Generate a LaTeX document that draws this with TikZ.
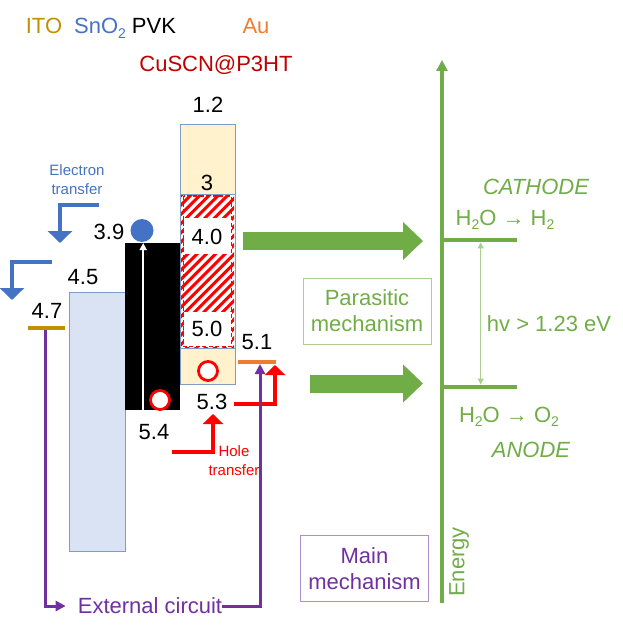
\documentclass[tikz,border=0pt]{standalone}
\usepackage{fontspec}
\setmainfont{Liberation Sans}
\usepackage{tikz}
\usetikzlibrary{arrows.meta,positioning}
\definecolor{itogold}{HTML}{BF9000}
\definecolor{snblue}{HTML}{4472C4}
\definecolor{auorange}{HTML}{ED7D31}
\definecolor{cured}{HTML}{C00000}
\definecolor{beige}{HTML}{FFF2CC}
\definecolor{paleblue}{HTML}{DAE3F3}
\definecolor{edgeblue}{HTML}{7F9CC8}
\definecolor{leaf}{HTML}{70AD47}
\definecolor{paleleaf}{HTML}{A9D18E}
\definecolor{circuit}{HTML}{7030A0}
\definecolor{lilac}{HTML}{B08FD0}
\newcommand{\bigtxt}{\fontsize{22}{26}\selectfont}
\newcommand{\smalltxt}{\fontsize{15}{19}\selectfont}
\newcommand{\lowidx}[1]{\raisebox{-0.35ex}{\fontsize{14}{14}\selectfont #1}}
\newcommand{\reacarrow}{\textbf{→}}

\begin{document}
\begin{tikzpicture}[x=1pt,y=-1pt,
  lbl/.style={font=\bigtxt,inner sep=0pt},
  note/.style={font=\smalltxt,align=center,inner sep=0pt},
  layer/.style={draw=edgeblue,line width=0.8pt,anchor=north west,inner sep=0pt},
  level/.style={minimum height=4pt,inner sep=0pt},
  carrier/.style={circle,draw=red,fill=white,line width=2.8pt,minimum size=19pt,inner sep=0pt},
  etrans/.style={draw=snblue,line width=3.5pt,-{Triangle[length=12pt,width=24pt]}},
  htrans/.style={draw=red,line width=3.5pt,-{Triangle[length=10pt,width=20pt]}},
  wire/.style={draw=circuit,line width=3pt,-{Triangle[length=10pt,width=10pt]}},
  block/.style={draw=leaf,line width=18pt,-{Triangle[length=20pt,width=37pt]}},
  mech/.style={draw,line width=1pt,align=center,font=\bigtxt,minimum width=128pt,minimum height=66pt,inner sep=0pt}
]
\useasboundingbox (0,0) rectangle (622,631);

% layer names
\node[lbl,itogold,anchor=base] (tito) at (44,34) {ITO};
\node[lbl,snblue,anchor=base] (tsno2) at (100,34) {SnO\lowidx{2}};
\node[lbl,anchor=base] (tpvk) at (154,34) {PVK};
\node[lbl,auorange,anchor=base] (tau) at (256,34) {Au};
\node[lbl,cured,anchor=base] (tcu) at (216,72) {CuSCN@P3HT};

% bands
\node[layer,fill=paleblue,minimum width=56pt,minimum height=259pt] (sno2) at (69,292) {};
\node[fill=black,anchor=north west,inner sep=0pt,minimum width=55pt,minimum height=167pt] (pvk) at (125,243) {};
\node[layer,fill=beige,minimum width=55pt,minimum height=70pt] (cutop) at (180,124) {};
\node[layer,fill=beige,minimum width=55pt,minimum height=36pt] (cubot) at (180,348) {};
\begin{scope}
  \clip (181,195) rectangle (234,347);
  \foreach \k in {0,...,24}
    \draw[red,line width=3pt] ({6+\k*9.3},352) -- ({6+\k*9.3+170},182);
\end{scope}
\fill[white] (183.5,218) rectangle (231.5,254);
\fill[white] (183.5,312) rectangle (231.5,347);
\draw[red,line width=1.6pt,dash pattern=on 4pt off 2.5pt] (183.5,196) rectangle (231.5,346.5);
\node[layer,minimum width=55pt,minimum height=260pt] (cuscn) at (180,124) {};
\node[level,fill=itogold,minimum width=37pt] (ito) at (46.5,328) {};
\node[level,fill=auorange,minimum width=38pt] (au) at (257,362) {};

% energy values
\node[lbl,anchor=base] (v12) at (208,113) {1.2};
\node[lbl] (v3) at (207,183) {3};
\node[lbl] (v40) at (207,237) {4.0};
\node[lbl] (v50) at (207,329) {5.0};
\node[lbl] (v39) at (109,232) {3.9};
\node[lbl] (v45) at (83,277) {4.5};
\node[lbl] (v47) at (47,311) {4.7};
\node[lbl] (v54) at (154,432) {5.4};
\node[lbl] (v53) at (212,402) {5.3};
\node[lbl] (v51) at (257,342) {5.1};

% carriers
\node[circle,fill=snblue,minimum size=23pt,inner sep=0pt] (elec) at (142,230.5) {};
\node[carrier] (hpvk) at (160,400) {};
\node[carrier] (hcu) at (208,371) {};
\draw[white,line width=1.5pt,-{Triangle[length=7pt,width=7pt]}] ([xshift=-9.5pt]pvk.south) -- ([xshift=-9.5pt]pvk.north);

% electron transfer
\node[note,snblue] (etxt) at (77,179.5) {Electron\\transfer};
\coordinate (e1s) at (99,205);
\coordinate (e1e) at (60,243);
\coordinate (e2s) at (52,262);
\coordinate (e2e) at (12,300);
\draw[etrans] (e1s) -| (e1e);
\draw[etrans] (e2s) -| (e2e);

% hole transfer
\node[note,red] (htxt) at (234,461) {Hole\\transfer};
\coordinate (h1s) at (172,452);
\coordinate (h1e) at (213,414);
\coordinate (h2s) at (234,404);
\coordinate (h2e) at (275,365);
\draw[htrans] (h1s) -| (h1e);
\draw[htrans] (h2s) -| (h2e);

% external circuit
\node[lbl,circuit] (ext) at (150,606) {External circuit};
\coordinate (auin) at (260,364);
\draw[wire] ([xshift=-1.5pt]ito.south) |- ([xshift=-12pt]ext.west);
\draw[wire] (ext.east) -| (auin);

% mechanisms
\node[mech,draw=paleleaf,text=leaf] (para) at (367,311) {Parasitic\\mechanism};
\node[mech,draw=lilac,text=circuit] (main) at (364.5,568.5) {Main\\mechanism};
\coordinate (b1s) at (243,241);
\coordinate (b1e) at (423,241);
\coordinate (b2s) at (310,383.5);
\coordinate (b2e) at (423,383.5);
\draw[block] (b1s) -- (b1e);
\draw[block] (b2s) -- (b2e);

% energy scale
\coordinate (ebot) at (442,603);
\coordinate (etop) at (442,60);
\draw[leaf,line width=4pt,-{Triangle[length=11pt,width=11pt]}] (ebot) -- (etop);
\node[lbl,leaf,rotate=90] (energy) at (459,562) {Energy};
\node[level,fill=leaf,minimum width=77pt,minimum height=4.5pt,anchor=west] (cath) at (440,240) {};
\node[level,fill=leaf,minimum width=77pt,minimum height=4.5pt,anchor=west] (anod) at (440,387) {};
\draw[paleleaf,line width=0.8pt,{Triangle[length=6pt,width=6pt]}-{Triangle[length=6pt,width=6pt]}] ([xshift=2pt]cath.south) -- ([xshift=2pt]anod.north);
\node[lbl,leaf,font=\bigtxt\itshape,anchor=base] (ctxt) at (536,194) {CATHODE};
\node[lbl,leaf,anchor=base] (hreac) at (505,225) {H\lowidx{2}O \reacarrow{} H\lowidx{2}};
\node[lbl,leaf,anchor=base] (hv) at (549,331) {hv > 1.23 eV};
\node[lbl,leaf,anchor=base] (oreac) at (509,422) {H\lowidx{2}O \reacarrow{} O\lowidx{2}};
\node[lbl,leaf,font=\bigtxt\itshape,anchor=base] (atxt) at (531,457) {ANODE};
\end{tikzpicture}
\end{document}
